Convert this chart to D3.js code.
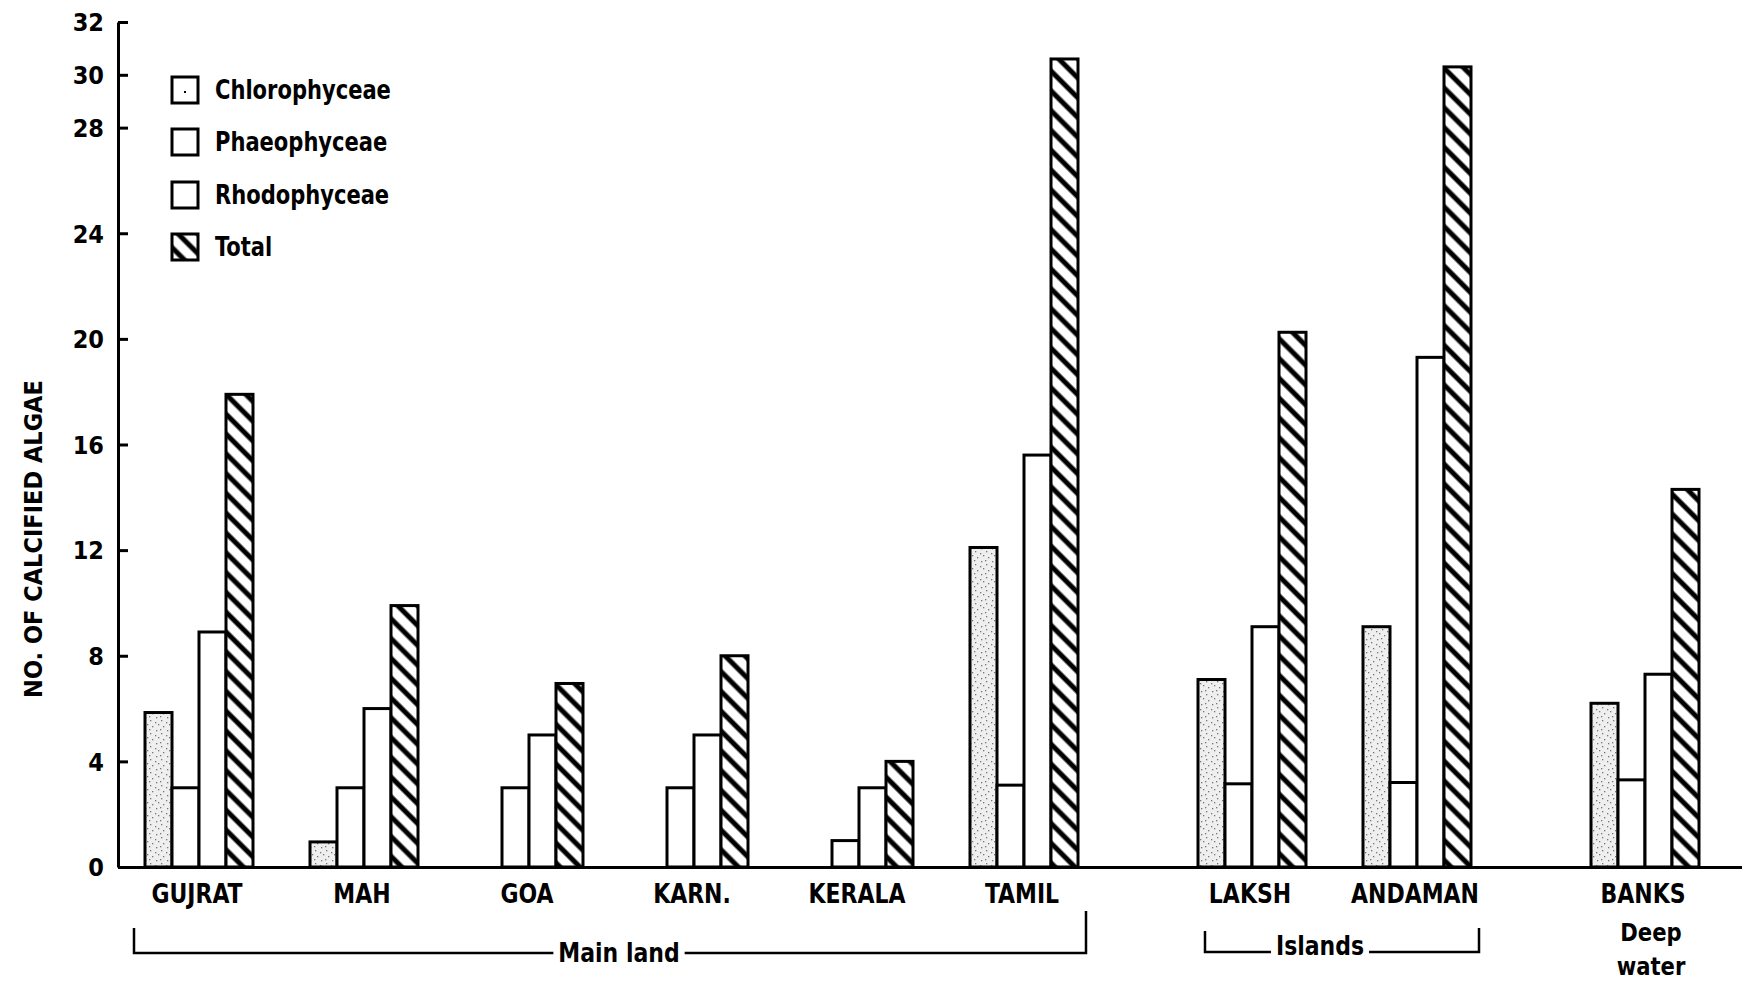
<!DOCTYPE html>
<html><head><meta charset="utf-8">
<script src="https://cdn.jsdelivr.net/npm/d3@7"></script>
<style>
body{margin:0;background:#fff}
svg{display:block}
text{font-family:"DejaVu Sans Condensed","DejaVu Sans",sans-serif;font-stretch:condensed;font-weight:bold;fill:#000}
</style>
</head><body>
<svg id="c" width="1742" height="982"></svg>
<script>
// ---- data ----
const categories = ["GUJRAT","MAH","GOA","KARN.","KERALA","TAMIL","LAKSH","ANDAMAN","BANKS"];
const regionOf = ["Main land","Main land","Main land","Main land","Main land","Main land","Islands","Islands","Deep water"];
const regions = ["Main land","Islands","Deep water"];
const seriesNames = ["Chlorophyceae","Phaeophyceae","Rhodophyceae","Total"];
const chlorophyceae = [5.85,0.95,0,0,0,12.1,7.1,9.1,6.2];
const phaeophyceae  = [3,3,3,3,1,3.1,3.15,3.2,3.3];
const rhodophyceae  = [8.9,6,5,5,3,15.6,9.1,19.3,7.3];
const total         = [17.9,9.9,6.95,8,4,30.6,20.25,30.3,14.3];
const yTicks = [0,4,8,12,16,20,24,28,30,32];
const yTitle = "NO. OF CALCIFIED ALGAE";

const seriesValues = [chlorophyceae, phaeophyceae, rhodophyceae, total];

// ---- layout ----
const svg = d3.select("#c");
const axisX = 118, baseY = 867, topY = 22;
const regionGap = 63;

const y = d3.scaleLinear().domain([0,32]).range([baseY, topY]);
const xGroup = d3.scaleBand().domain(categories).range([145, 145 + 165*categories.length]).paddingInner(0).paddingOuter(0);
const xSeries = d3.scaleBand().domain(seriesNames).range([0, 108]);
const gx = (c) => xGroup(c) + regions.indexOf(regionOf[categories.indexOf(c)]) * regionGap;

// ---- patterns ----
const defs = svg.append("defs");
const hatch = defs.append("pattern").attr("id","hatch").attr("patternUnits","userSpaceOnUse")
  .attr("width",14).attr("height",14).attr("patternTransform","rotate(-45)");
hatch.append("rect").attr("width",14).attr("height",14).attr("fill","#fff");
hatch.append("line").attr("x1",7).attr("y1",-2).attr("x2",7).attr("y2",16).attr("stroke","#000").attr("stroke-width",5);

const stip = defs.append("pattern").attr("id","stipple").attr("patternUnits","userSpaceOnUse")
  .attr("width",11).attr("height",13);
stip.append("rect").attr("width",11).attr("height",13).attr("fill","#efefef");
[[2,2],[7,5],[4,9],[9,11],[1,7],[6,1]].forEach(p=>{
  stip.append("rect").attr("x",p[0]).attr("y",p[1]).attr("width",1.3).attr("height",1.3).attr("fill","#777");
});

const fills = ["url(#stipple)","#fff","#fff","url(#hatch)"];

// ---- bars ----
const rows = [];
categories.forEach((c,i)=>{
  seriesNames.forEach((s,j)=>{
    rows.push({cat:c, series:s, j, value:seriesValues[j][i]});
  });
});
svg.append("g").selectAll("rect").data(rows.filter(d=>d.value>0)).join("rect")
  .attr("x", d=> gx(d.cat) + xSeries(d.series))
  .attr("y", d=> y(d.value))
  .attr("width", xSeries.bandwidth())
  .attr("height", d=> baseY - y(d.value))
  .attr("fill", d=> fills[d.j])
  .attr("stroke","#000").attr("stroke-width",3);

// ---- axes ----
const yAxis = d3.axisLeft(y).tickValues(yTicks).tickSizeInner(-10).tickSizeOuter(0).tickPadding(14).tickFormat(d3.format("d"));
const ya = svg.append("g").attr("transform",`translate(${axisX},0)`).call(yAxis);
ya.select(".domain").attr("stroke","#000").attr("stroke-width",3);
ya.selectAll(".tick line").attr("stroke","#000").attr("stroke-width",3);
ya.selectAll(".tick text").style("font-size","25px").attr("dy","0.35em");

// x axis baseline
const xa = svg.append("g").attr("transform",`translate(0,${baseY})`)
  .call(d3.axisBottom(d3.scaleLinear().domain([0,1]).range([axisX,1742])).tickValues([]).tickSizeOuter(0));
xa.select(".domain").attr("stroke","#000").attr("stroke-width",3);

// category labels
svg.append("g").selectAll("text").data(categories).join("text")
  .attr("transform", c=> `translate(${gx(c) + 52},903) scale(0.94,1)`)
  .attr("text-anchor","middle").style("font-size","26px").text(c=>c);

// y title
svg.append("text").attr("transform","translate(42,539) rotate(-90)")
  .attr("text-anchor","middle").style("font-size","25px").text(yTitle);

// ---- region brackets ----
const brackets = svg.append("g");
function bracket(region, leftOff, leftTop, rightTop, lineY, textX, textY, fs){
  const cats = categories.filter((c,i)=>regionOf[i]===region);
  const x1 = gx(cats[0]) + leftOff, x2 = gx(cats[cats.length-1]) + 108 + 8;
  brackets.append("path").attr("d",`M${x1},${leftTop}V${lineY}H${x2}V${rightTop}`)
    .attr("fill","none").attr("stroke","#000").attr("stroke-width",2.5);
  const t = brackets.append("text").attr("transform",`translate(${textX(x1,x2)},${textY}) scale(0.94,1)`).attr("text-anchor","middle")
    .style("font-size",fs).text(region);
  const bb = t.node().getBBox();
  const w = bb.width*0.94;
  brackets.insert("rect", () => t.node()).attr("x",textX(x1,x2)-w/2-5).attr("y",lineY-4).attr("width",w+10).attr("height",8).attr("fill","#fff");
}
bracket("Main land", -11, 928, 911, 953, (a,b)=>(a+b)/2 + 9, 962, "26px");
bracket("Islands", 7, 931, 928, 952, (a,b)=>(a+b)/2 - 22, 955, "26px");

// Deep water label
const dw = categories.indexOf("BANKS");
svg.append("text").attr("transform",`translate(${gx(categories[dw]) + 60},941) scale(0.94,1)`).attr("text-anchor","middle").style("font-size","25px").text("Deep");
svg.append("text").attr("transform",`translate(${gx(categories[dw]) + 60},975) scale(0.94,1)`).attr("text-anchor","middle").style("font-size","25px").text("water");

// ---- legend ----
const lg = svg.append("g").attr("transform","translate(172,0)");
const legY = [90,142,195,247];
seriesNames.forEach((s,j)=>{
  lg.append("rect").attr("x",0).attr("y",legY[j]-13).attr("width",26).attr("height",26)
    .attr("fill", j===0 ? "#fff" : fills[j]).attr("stroke","#000").attr("stroke-width",3);
  if(j===0) lg.append("rect").attr("x",12).attr("y",legY[j]+1).attr("width",2).attr("height",2).attr("fill","#000");
  lg.append("text").attr("transform",`translate(43,${legY[j]}) scale(0.9,1)`).attr("dy","0.35em").style("font-size","26px").text(s);
});
</script>
</body></html>
